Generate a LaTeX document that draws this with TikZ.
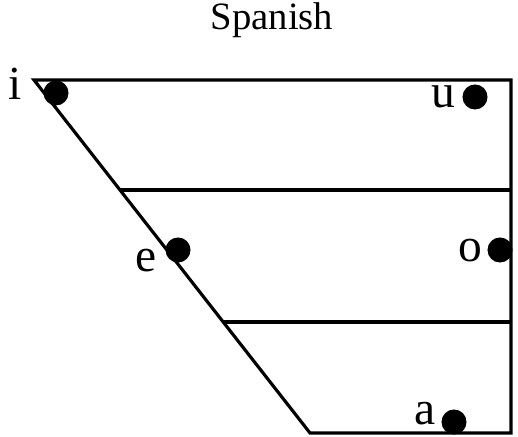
\documentclass[tikz,border=0pt]{standalone}
\usepackage{fontspec}
\setmainfont{Liberation Serif}
\usetikzlibrary{calc,positioning}
\tikzset{
  edge/.style={line width=0.9pt,line join=miter},
  vdot/.style={circle,fill=black,inner sep=0pt,minimum size=0.25cm},
  vlbl/.style={anchor=base,inner sep=0pt,font=\fontsize{13.5}{15}\selectfont},
}

\begin{document}
\begin{tikzpicture}[x=0.01cm,y=-0.01cm]
  \useasboundingbox (0,0) rectangle (518,437);
  \node[font=\fontsize{11}{13}\selectfont] (title) at (272,20) {Spanish};
  % outline of the vowel space
  \coordinate (tl) at (34,80);
  \coordinate (tr) at (511,80);
  \coordinate (br) at (511,433);
  \coordinate (bl) at (310,433);
  \draw[edge] (tl) -- (tr) -- (br) -- (bl) -- cycle;
  \coordinate (m1) at ($(tl)!{110/353}!(bl)$);
  \coordinate (m2) at ($(tl)!{242/353}!(bl)$);
  \draw[edge] (m1) -- (m1 -| br);
  \draw[edge] (m2) -- (m2 -| br);
  % vowels
  \node[vdot] (di) at (56,93) {};
  \node[vdot] (du) at (475,97) {};
  \node[vdot] (de) at (178,250) {};
  \node[vdot] (do) at (500,250) {};
  \node[vdot] (da) at (454,422) {};
  \node[vlbl] (li) at (15,100) {i};
  \node[vlbl] (lu) at (443,108) {u};
  \node[vlbl] (le) at (146,272) {e};
  \node[vlbl] (lo) at (470,262) {o};
  \node[vlbl] (la) at (425,425) {a};
\end{tikzpicture}
\end{document}
